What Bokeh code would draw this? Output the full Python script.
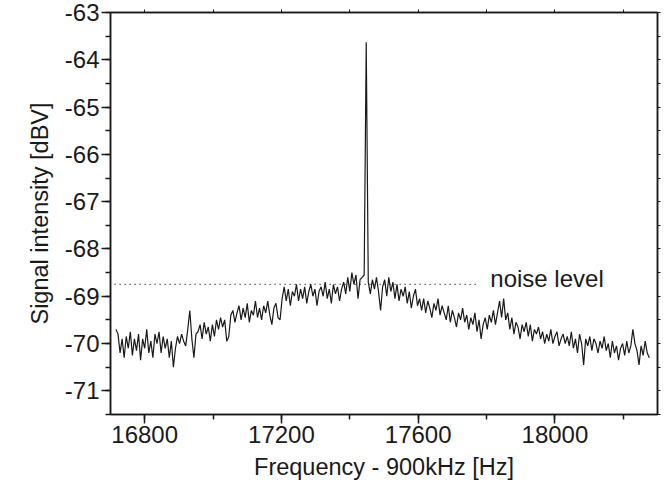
import numpy as np
from bokeh.plotting import figure
from bokeh.models import Range1d, LinearAxis, SingleIntervalTicker, CustomJSTickFormatter
from bokeh.core.properties import value
from bokeh.embed import file_html
from bokeh.resources import INLINE

# ---- data ----
freq_start = 16716.0   # Hz (offset from 900 kHz)
freq_step = 6.0        # Hz per sample
signal_dbv = [
    -69.70, -69.80, -70.20, -69.90, -70.30, -69.85, -70.10, -69.75, -70.25, -69.90,
    -70.15, -69.80, -70.35, -69.90, -70.10, -69.70, -70.20, -69.95, -70.30, -69.80,
    -70.00, -69.75, -70.20, -69.85, -70.10, -69.90, -70.30, -69.95, -70.50, -70.10,
    -69.85, -70.00, -69.80, -69.95, -70.05, -69.70, -69.30, -69.90, -70.30, -69.80,
    -69.75, -69.60, -69.90, -69.55, -69.80, -69.65, -69.95, -69.60, -69.85, -69.50,
    -69.70, -69.45, -69.65, -69.50, -69.95, -69.85, -69.40, -69.30, -69.55, -69.35,
    -69.20, -69.50, -69.25, -69.45, -69.15, -69.55, -69.30, -69.40, -69.10, -69.45,
    -69.25, -69.50, -69.20, -69.35, -69.10, -69.40, -69.60, -69.25, -69.15, -69.45,
    -69.50, -69.05, -68.80, -69.10, -68.85, -69.20, -68.90, -69.00, -68.75, -69.10,
    -68.85, -69.05, -68.80, -69.15, -68.90, -68.75, -69.00, -68.85, -69.20, -68.90,
    -68.80, -69.00, -68.70, -69.05, -68.85, -69.15, -68.75, -68.95, -68.80, -69.10,
    -68.85, -68.70, -68.95, -68.60, -68.90, -68.50, -68.75, -68.55, -69.05, -68.65,
    -68.60, -68.55, -63.63, -68.70, -68.95, -68.65, -68.85, -68.60, -68.90, -69.30,
    -68.80, -68.65, -69.00, -68.60, -68.90, -68.70, -69.05, -68.75, -69.10, -68.85,
    -69.00, -68.80, -69.15, -68.90, -69.25, -69.00, -68.85, -69.20, -69.05, -69.30,
    -69.05, -69.35, -69.10, -69.25, -69.45, -69.15, -69.30, -69.05, -69.40, -69.20,
    -69.35, -69.50, -69.20, -69.55, -69.30, -69.45, -69.65, -69.35, -69.50, -69.25,
    -69.55, -69.40, -69.70, -69.45, -69.60, -69.35, -69.75, -69.50, -69.90, -69.60,
    -69.45, -69.70, -69.40, -69.55, -69.30, -69.60, -69.35, -69.10, -69.45, -69.05,
    -69.50, -69.35, -69.70, -69.45, -69.80, -69.55, -69.65, -69.90, -69.60, -69.75,
    -69.55, -69.85, -69.60, -69.95, -69.70, -69.80, -69.65, -69.90, -69.75, -70.00,
    -69.80, -69.95, -69.70, -70.00, -69.85, -69.75, -70.05, -69.90, -69.80, -70.00,
    -69.85, -70.05, -69.75, -70.10, -69.90, -70.20, -69.80, -70.00, -70.45, -69.90,
    -70.05, -69.85, -70.15, -69.90, -70.00, -70.20, -69.95, -70.10, -69.85, -70.15,
    -70.00, -70.30, -69.95, -70.20, -70.05, -70.35, -70.10, -70.00, -70.25, -69.95,
    -70.20, -70.05, -69.70, -70.00, -70.15, -70.45, -70.05, -70.25, -69.95, -70.20,
    -70.30,
]
freq_hz = freq_start + freq_step * np.arange(len(signal_dbv))

noise_level_dbv = -68.75
noise_line_x = [16712, 17776]
noise_label = "noise level"
noise_label_pos = (17811, -68.62)

x_title = "Frequency - 900kHz [Hz]"
y_title = "Signal intensity [dBV]"

FONT = "Liberation Sans"
INK = "#1a1a1a"

p = figure(width=667, height=488, output_backend="svg", toolbar_location=None,
           x_range=Range1d(16700, 18300), y_range=Range1d(-71.5, -63),
           min_border_left=110, min_border_right=10, min_border_top=12,
           min_border_bottom=74)
p.background_fill_color = "white"
p.border_fill_color = "white"
p.grid.visible = False
p.outline_line_color = INK
p.outline_line_width = 1.5

p.line(freq_hz, signal_dbv, line_color=INK, line_width=1.2)
p.line(noise_line_x, [noise_level_dbv, noise_level_dbv], line_color=INK,
       line_width=1.2, line_dash="1 4")
p.text(x=[noise_label_pos[0]], y=[noise_label_pos[1]], text=[noise_label],
       text_font=value(FONT), text_font_size="24px", text_color=INK,
       text_baseline="alphabetic", text_align="left")

xa = p.xaxis[0]
xa.ticker = SingleIntervalTicker(interval=400, num_minor_ticks=2)
xa.axis_label = x_title
ya = p.yaxis[0]
ya.ticker = SingleIntervalTicker(interval=1, num_minor_ticks=2)
ya.formatter = CustomJSTickFormatter(code="return tick.toFixed(0);")
ya.axis_label = y_title
for ax in (xa, ya):
    ax.axis_line_color = INK
    ax.axis_line_width = 1.5
    ax.major_tick_line_color = INK
    ax.minor_tick_line_color = INK
    ax.major_tick_line_width = 1.5
    ax.minor_tick_line_width = 1.5
    ax.major_tick_in = 0
    ax.minor_tick_in = 0
    ax.major_tick_out = 9
    ax.minor_tick_out = 5
    ax.major_label_text_font = FONT
    ax.major_label_text_font_size = "24px"
    ax.major_label_text_color = INK
    ax.axis_label_text_font = FONT
    ax.axis_label_text_font_size = "23.5px"
    ax.axis_label_text_font_style = "normal"
    ax.axis_label_text_color = INK
xa.major_label_standoff = 2
xa.axis_label_standoff = 8
ya.major_label_standoff = 2
ya.axis_label_standoff = 9

# mirrored top / right frame ticks without labels
top = LinearAxis(ticker=SingleIntervalTicker(interval=200, num_minor_ticks=0),
                 formatter=CustomJSTickFormatter(code="return '';"))
right = LinearAxis(ticker=SingleIntervalTicker(interval=0.5, num_minor_ticks=0),
                   formatter=CustomJSTickFormatter(code="return '';"))
for ax in (top, right):
    ax.axis_line_color = INK
    ax.axis_line_width = 1.5
    ax.major_tick_line_color = INK
    ax.major_tick_line_width = 1
    ax.major_tick_in = 0
    ax.major_tick_out = 3
    ax.minor_tick_out = 0
    ax.major_label_standoff = 0
p.add_layout(top, "above")
p.add_layout(right, "right")

open("out.html", "w").write(file_html(p, INLINE))
